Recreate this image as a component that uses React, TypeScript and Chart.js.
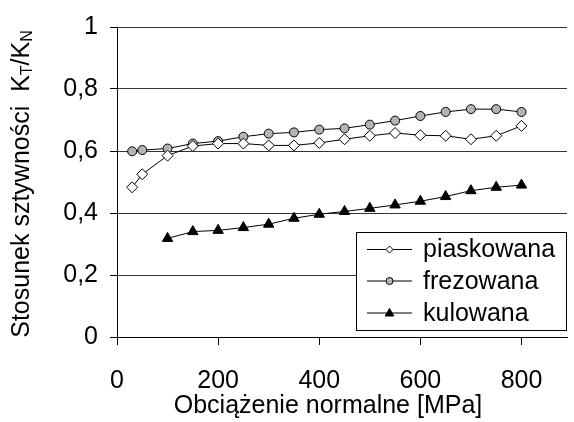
import { useEffect, useRef } from "react";
import { Chart, registerables } from "chart.js";

Chart.register(...registerables);

const loads = [30, 50, 100, 150, 200, 250, 300, 350, 400, 450, 500, 550, 600, 650, 700, 750, 800];
const piaskowana = [0.483, 0.525, 0.585, 0.616, 0.624, 0.624, 0.618, 0.618, 0.626, 0.638, 0.649, 0.658, 0.651, 0.649, 0.638, 0.649, 0.681];
const frezowana = [0.599, 0.603, 0.608, 0.624, 0.632, 0.646, 0.656, 0.66, 0.669, 0.673, 0.685, 0.698, 0.713, 0.726, 0.735, 0.735, 0.726];
const kuloLoads = [100, 150, 200, 250, 300, 350, 400, 450, 500, 550, 600, 650, 700, 750, 800];
const kulowana = [0.318, 0.34, 0.344, 0.353, 0.364, 0.383, 0.396, 0.405, 0.415, 0.426, 0.438, 0.453, 0.472, 0.483, 0.49];
const seriesNames = ["piaskowana", "frezowana", "kulowana"];
const xTitle = "Obciążenie normalne [MPa]";
const yTitleParts = ["Stosunek sztywności  K", "T", "/K", "N"];

const FONT = "'Liberation Sans', Arial, sans-serif";
const FS = 25;

type Marker = { style: string; fill: string; r: number };
const markers: Marker[] = [
  { style: "rectRot", fill: "#ffffff", r: 5.5 },
  { style: "circle", fill: "#b4b4b4", r: 4.5 },
  { style: "triangle", fill: "#000000", r: 6 },
];

function drawMarker(ctx: CanvasRenderingContext2D, m: Marker, x: number, y: number, r: number) {
  ctx.save();
  ctx.fillStyle = m.fill;
  ctx.strokeStyle = "#000";
  ctx.lineWidth = 1;
  ctx.beginPath();
  if (m.style === "rectRot") {
    ctx.moveTo(x, y - r);
    ctx.lineTo(x + r, y);
    ctx.lineTo(x, y + r);
    ctx.lineTo(x - r, y);
    ctx.closePath();
  } else if (m.style === "circle") {
    ctx.arc(x, y, r, 0, Math.PI * 2);
  } else {
    const h = r * 1.5;
    ctx.moveTo(x, y - h * 0.6);
    ctx.lineTo(x + r * 0.87, y + h * 0.4);
    ctx.lineTo(x - r * 0.87, y + h * 0.4);
    ctx.closePath();
  }
  ctx.fill();
  ctx.stroke();
  ctx.restore();
}

const customPlugin = {
  id: "custom",
  afterDraw(chart: any) {
    const ctx: CanvasRenderingContext2D = chart.ctx;
    // Legend
    ctx.save();
    const bx = 356, by = 232, bw = 210, bh = 98;
    ctx.fillStyle = "#fff";
    ctx.fillRect(bx, by, bw, bh);
    ctx.strokeStyle = "#000";
    ctx.lineWidth = 1;
    ctx.strokeRect(bx + 0.5, by + 0.5, bw, bh);
    const rows = [249.5, 281, 313];
    ctx.font = `${FS}px ${FONT}`;
    ctx.textBaseline = "middle";
    ctx.textAlign = "left";
    seriesNames.forEach((name, i) => {
      const y = rows[i];
      ctx.beginPath();
      ctx.moveTo(367, y);
      ctx.lineTo(412, y);
      ctx.strokeStyle = "#000";
      ctx.stroke();
      drawMarker(ctx, markers[i], 389.5, y, i === 2 ? 5 : 3.5);
      ctx.fillStyle = "#000";
      ctx.fillText(name, 423, y + 1);
    });
    // X title
    ctx.font = `${FS}px ${FONT}`;
    ctx.textAlign = "center";
    ctx.textBaseline = "middle";
    ctx.fillStyle = "#000";
    ctx.fillText(xTitle, 328, 406);
    // Y title with subscripts
    ctx.save();
    ctx.translate(22, 184);
    ctx.rotate(-Math.PI / 2);
    const big = `${FS}px ${FONT}`;
    const small = `16px ${FONT}`;
    const fonts = [big, small, big, small];
    const offs = [0, 6, 0, 6];
    let total = 0;
    const widths = yTitleParts.map((p, i) => {
      ctx.font = fonts[i];
      const w = ctx.measureText(p).width;
      total += w;
      return w;
    });
    let x = -total / 2;
    ctx.textAlign = "left";
    ctx.textBaseline = "middle";
    yTitleParts.forEach((p, i) => {
      ctx.font = fonts[i];
      ctx.fillText(p, x, offs[i]);
      x += widths[i];
    });
    ctx.restore();
    ctx.restore();
  },
};

export default function App() {
  const ref = useRef<HTMLCanvasElement>(null);
  useEffect(() => {
    document.body.style.margin = "0";
    const mk = (i: number, xs: number[], ys: number[]) => ({
      label: seriesNames[i],
      data: xs.map((x, k) => ({ x, y: ys[k] })),
      borderColor: "#000",
      borderWidth: 1,
      pointStyle: markers[i].style,
      pointRadius: markers[i].r,
      pointBackgroundColor: markers[i].fill,
      pointBorderColor: "#000",
      pointBorderWidth: 1,
      fill: false,
      tension: 0,
    });
    const chart = new Chart(ref.current!, {
      type: "line",
      data: {
        datasets: [
          mk(2, kuloLoads, kulowana),
          mk(0, loads, piaskowana),
          mk(1, loads, frezowana),
        ] as any,
      },
      options: {
        animation: false,
        responsive: false,
        layout: { padding: { top: 20, right: 0, left: 0, bottom: 0 } },
        plugins: { legend: { display: false }, tooltip: { enabled: false } },
        scales: {
          x: {
            type: "linear",
            min: 0,
            max: 890,
            afterFit: (s: any) => {
              s.height = 85;
            },
            ticks: {
              stepSize: 200,
              includeBounds: false,
              padding: 21,
              color: "#000",
              font: { size: FS, family: FONT },
              maxRotation: 0,
            },
            grid: { drawOnChartArea: false, drawTicks: true, tickLength: 8, color: "#000" },
            border: { color: "#000", width: 1 },
          },
          y: {
            min: 0,
            max: 1,
            afterFit: (s: any) => {
              s.width = 117;
            },
            ticks: {
              stepSize: 0.2,
              padding: 12,
              color: "#000",
              font: { size: FS, family: FONT },
              callback: (v: any) => {
                const n = Number(v);
                if (Math.abs(n) < 1e-9) return "0";
                if (Math.abs(n - 1) < 1e-9) return "1";
                return n.toFixed(1).replace(".", ",");
              },
            },
            grid: { color: "#333", lineWidth: 1, tickLength: 7, tickColor: "#000" },
            border: { color: "#000", width: 1 },
          },
        },
      },
      plugins: [customPlugin],
    } as any);
    return () => chart.destroy();
  }, []);
  return (
    <div style={{ position: "absolute", left: 0, top: 0, width: 574, height: 422, background: "#fff" }}>
      <canvas ref={ref} width={574} height={422} style={{ display: "block" }} />
    </div>
  );
}
